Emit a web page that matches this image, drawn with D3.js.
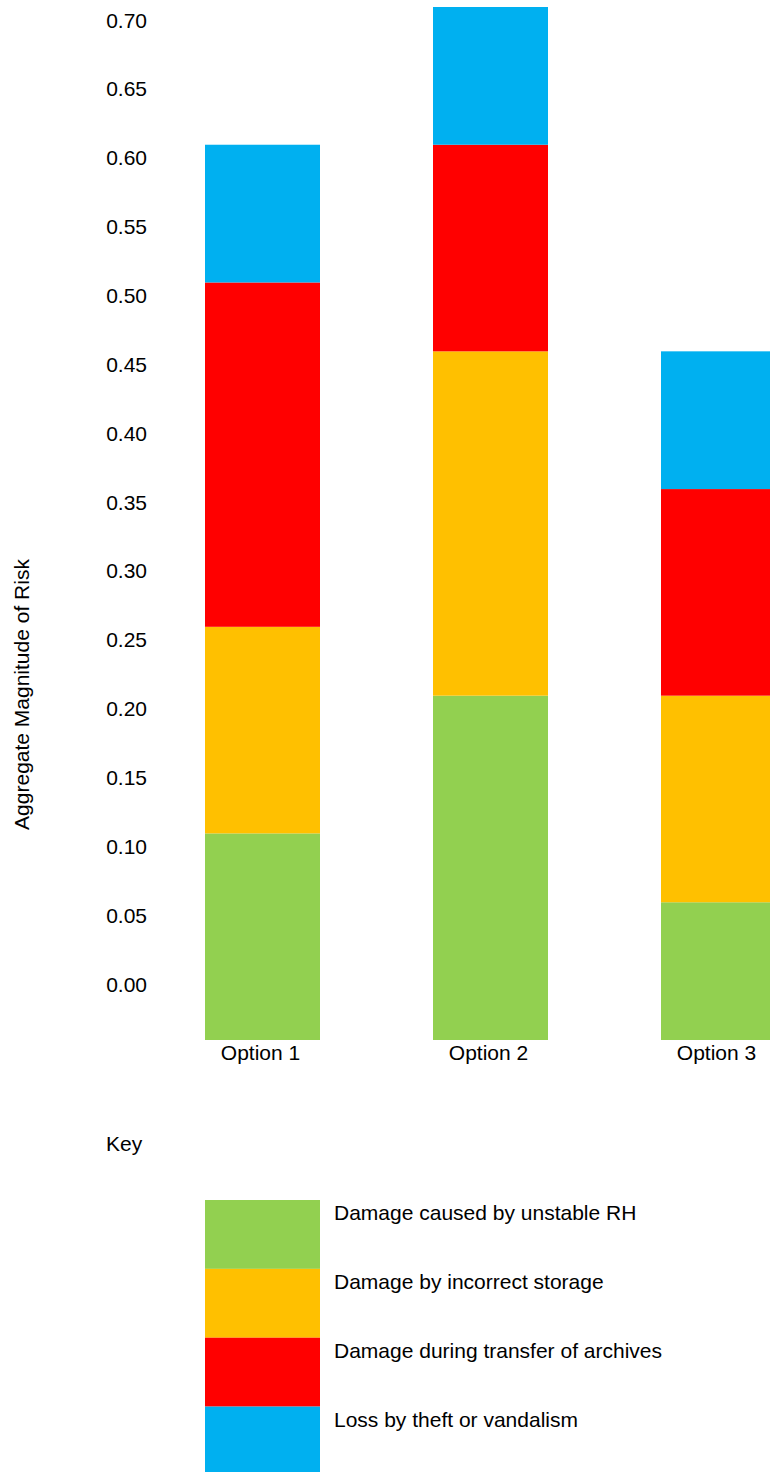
<!DOCTYPE html>
<html>
<head>
<meta charset="utf-8">
<script src="https://cdn.jsdelivr.net/npm/d3@7"></script>
<style>
  html, body { margin: 0; padding: 0; background: #fff; overflow: hidden; }
  svg { display: block; font-family: "Liberation Sans", Arial, sans-serif; }
</style>
</head>
<body>
<svg id="chart" width="770" height="1472"></svg>
<script>
// Options compared
const options = ["Option 1", "Option 2", "Option 3"];

// Risk categories (bottom to top of each stack)
const risks = [
  "Damage caused by unstable RH",
  "Damage by incorrect storage",
  "Damage during transfer of archives",
  "Loss by theft or vandalism"
];
const riskColors = ["#92D050", "#FFC000", "#FF0000", "#00B0F0"];

// Magnitude of each risk, per option
const unstableRH       = [0.15, 0.25, 0.10];
const incorrectStorage = [0.15, 0.25, 0.15];
const transfer         = [0.25, 0.15, 0.15];
const theft            = [0.10, 0.10, 0.10];

// Axis ticks
const tickValues = [0.00, 0.05, 0.10, 0.15, 0.20, 0.25, 0.30, 0.35, 0.40, 0.45, 0.50, 0.55, 0.60, 0.65, 0.70];
const axisMin = -0.05, axisMax = 0.70;

const FONT = 21;

const seriesValues = [unstableRH, incorrectStorage, transfer, theft];
const rows = options.map((o, i) => {
  const r = { option: o };
  risks.forEach((k, j) => { r[k] = seriesValues[j][i]; });
  return r;
});

const svg = d3.select("#chart");

const x = d3.scaleBand()
  .domain(options)
  .range([205, 776])
  .paddingInner(113 / 228)
  .paddingOuter(0);

const y = d3.scaleLinear()
  .domain([axisMin, axisMax])
  .range([1040, 7]);

const color = d3.scaleOrdinal().domain(risks).range(riskColors);

const stack = d3.stack().keys(risks);
const layers = stack(rows);

// Bars rise from the bottom of the value range
svg.append("g").selectAll("g")
  .data(layers)
  .join("g")
  .attr("fill", d => color(d.key))
  .selectAll("rect")
  .data(d => d)
  .join("rect")
  .attr("x", d => x(d.data.option))
  .attr("width", x.bandwidth())
  .attr("y", d => y(axisMin + d[1]))
  .attr("height", d => y(axisMin + d[0]) - y(axisMin + d[1]));

// Value axis labels (text hangs just below each tick level)
const yAxis = d3.axisLeft(y).tickValues(tickValues).tickFormat(d3.format(".2f")).tickSize(0).tickPadding(0);
const gy = svg.append("g").attr("transform", "translate(147,0)").call(yAxis);
gy.select(".domain").remove();
gy.selectAll("text")
  .attr("dy", null)
  .attr("y", 20)
  .attr("x", 0)
  .attr("text-anchor", "end")
  .attr("font-family", "Liberation Sans, Arial, sans-serif")
  .attr("font-size", FONT)
  .attr("fill", "#000");

// Category labels
const xAxis = d3.axisBottom(x).tickSize(0).tickPadding(0);
const gx = svg.append("g").attr("transform", `translate(-2,${y(axisMin)})`).call(xAxis);
gx.select(".domain").remove();
gx.selectAll("text")
  .attr("dy", null)
  .attr("y", 20)
  .attr("font-family", "Liberation Sans, Arial, sans-serif")
  .attr("font-size", FONT)
  .attr("fill", "#000");

// Axis title
svg.append("text")
  .attr("transform", `translate(29,${(y(axisMin) + y(axisMax)) / 2 + 171}) rotate(-90)`)
  .attr("text-anchor", "middle")
  .attr("font-size", FONT)
  .attr("fill", "#000")
  .text("Aggregate Magnitude of Risk");

// Key
svg.append("text")
  .attr("x", 106)
  .attr("y", 1151)
  .attr("font-size", FONT)
  .attr("fill", "#000")
  .text("Key");

const swatchH = y(0) - y(0.05);
const legend = svg.append("g").selectAll("g")
  .data(risks)
  .join("g")
  .attr("transform", (d, i) => `translate(205,${1200 + i * swatchH})`);

legend.append("rect")
  .attr("width", x.bandwidth())
  .attr("height", swatchH)
  .attr("fill", d => color(d));

legend.append("text")
  .attr("x", 129)
  .attr("y", 20)
  .attr("font-size", FONT)
  .attr("fill", "#000")
  .text(d => d);
</script>
</body>
</html>
